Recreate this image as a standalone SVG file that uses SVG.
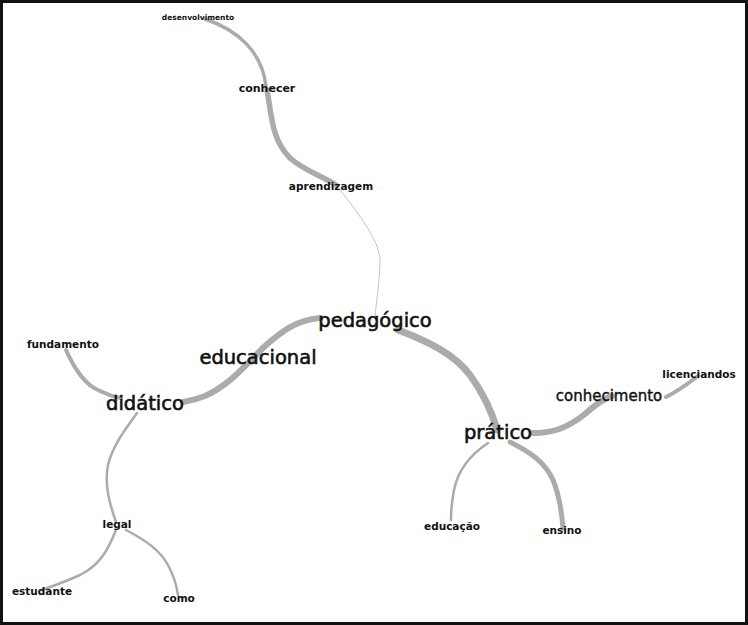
<svg xmlns="http://www.w3.org/2000/svg" width="748" height="625" viewBox="0 0 748 625">
<style>
.e{fill:none;stroke:#ababab;stroke-linecap:round}
.t{font-family:"DejaVu Sans",sans-serif;fill:#111;text-anchor:middle;dominant-baseline:middle}
.big{font-size:19.5px;stroke:#111;stroke-width:0.6}
.sm{font-size:10.5px;font-weight:bold}
</style>
<rect x="0" y="0" width="748" height="625" fill="#fff"/>
<rect x="1.5" y="1.5" width="745" height="622" fill="none" stroke="#111" stroke-width="3"/>
<g id="connectors">
<path class="e" stroke-width="3.5" d="M205,19 C238,30 262,52 266,86"/>
<path class="e" stroke-width="5.5" d="M267,90 C272,118 272,140 290,158 C303,170 322,176 336,185"/>
<path class="e" style="stroke:#c4c4c4" stroke-width="1" d="M340,190 C360,215 378,240 380,258 C380,282 376,302 375,318"/>
<path class="e" stroke-width="6" d="M320,318 C295,320 280,333 265,346 C245,365 230,385 205,396 C195,400 188,401 183,402"/>
<path class="e" stroke-width="4" d="M66,350 C75,370 85,385 100,391 C108,395 115,397 121,398"/>
<path class="e" stroke-width="2.5" d="M137,413 C125,430 113,445 108,465 C104,485 110,505 116,522"/>
<path class="e" stroke-width="2.5" d="M116,530 C108,550 100,565 80,575 C65,582 55,585 42,590"/>
<path class="e" stroke-width="2.5" d="M126,530 C145,540 160,550 168,565 C175,578 177,588 178,595"/>
<path class="e" stroke-width="7" d="M398,330 C430,342 455,355 470,375 C483,393 492,412 497,430"/>
<path class="e" stroke-width="6" d="M533,433 C550,433 565,430 585,414 C595,405 605,398 612,396"/>
<path class="e" stroke-width="4" d="M666,397 C680,390 690,382 698,376"/>
<path class="e" stroke-width="2.5" d="M488,443 C470,455 458,470 454,490 C451,505 451,515 451,520"/>
<path class="e" stroke-width="5" d="M510,442 C530,452 545,462 553,480 C560,497 562,515 563,528"/>
</g>
<g id="n-desenvolvimento"><text class="t" x="198" y="18" style="font-size:7.5px;font-weight:bold">desenvolvimento</text></g>
<g id="n-conhecer"><text class="t sm" x="267" y="89" style="font-size:11px">conhecer</text></g>
<g id="n-aprendizagem"><text class="t sm" x="331" y="187">aprendizagem</text></g>
<g id="n-pedagogico"><text class="t big" x="375" y="321">pedagógico</text></g>
<g id="n-educacional"><text class="t big" x="258" y="358">educacional</text></g>
<g id="n-didatico"><text class="t big" x="145" y="404">didático</text></g>
<g id="n-fundamento"><text class="t sm" x="63" y="345">fundamento</text></g>
<g id="n-legal"><text class="t sm" x="117" y="525">legal</text></g>
<g id="n-estudante"><text class="t sm" x="42" y="592">estudante</text></g>
<g id="n-como"><text class="t sm" x="179" y="599">como</text></g>
<g id="n-pratico"><text class="t big" x="498" y="433">prático</text></g>
<g id="n-conhecimento"><text class="t" x="609" y="396" style="font-size:15px;stroke:#111;stroke-width:0.4">conhecimento</text></g>
<g id="n-licenciandos"><text class="t sm" x="699" y="375">licenciandos</text></g>
<g id="n-educacao"><text class="t sm" x="452" y="527">educação</text></g>
<g id="n-ensino"><text class="t sm" x="562" y="531">ensino</text></g>
</svg>
